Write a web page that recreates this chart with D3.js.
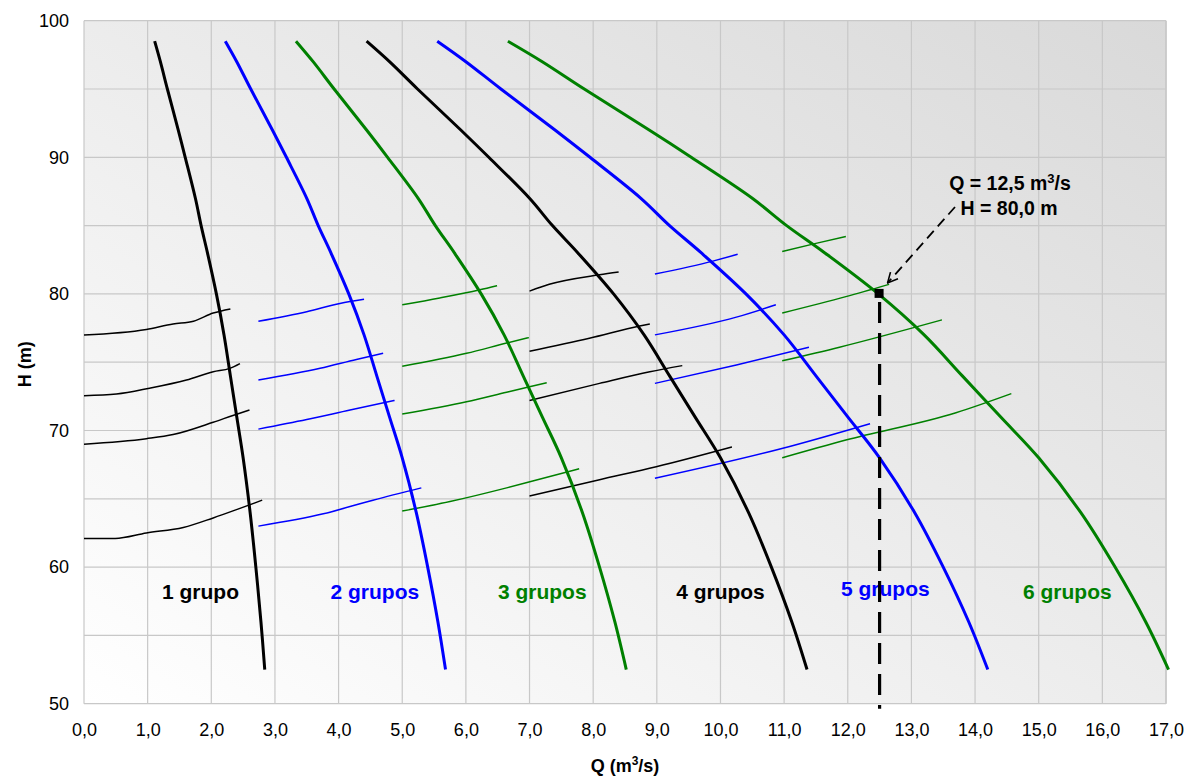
<!DOCTYPE html>
<html>
<head>
<meta charset="utf-8">
<script src="https://cdn.jsdelivr.net/npm/d3@7"></script>
<style>
  body { margin: 0; background: #fff; }
  text { font-family: "Liberation Sans", Arial, sans-serif; }
</style>
</head>
<body>
<svg id="chart" width="1187" height="778"></svg>
<script>
// heads (m) at which the pump curves were read
var alturas = [98.5, 97, 95, 92, 90, 87, 85, 83, 80, 77, 74, 71, 68, 64, 60, 56, 52.5];
// flow (m3/s) of each pump curve at those heads
var grupo1 = [1.11, 1.20, 1.31, 1.48, 1.59, 1.75, 1.84, 1.94, 2.08, 2.20, 2.30, 2.40, 2.50, 2.61, 2.70, 2.78, 2.84];
var grupo2 = [2.22, 2.40, 2.62, 2.96, 3.18, 3.50, 3.68, 3.88, 4.16, 4.40, 4.60, 4.80, 5.00, 5.22, 5.40, 5.56, 5.68];
var grupo3 = [3.33, 3.60, 3.93, 4.44, 4.77, 5.25, 5.52, 5.82, 6.24, 6.60, 6.90, 7.20, 7.50, 7.83, 8.10, 8.34, 8.52];
var grupo4 = [4.44, 4.80, 5.24, 5.92, 6.36, 7.00, 7.36, 7.76, 8.32, 8.80, 9.20, 9.60, 10.00, 10.44, 10.80, 11.12, 11.36];
var grupo5 = [5.55, 6.00, 6.55, 7.40, 7.95, 8.75, 9.20, 9.70, 10.40, 11.00, 11.50, 12.00, 12.50, 13.05, 13.50, 13.90, 14.20];
var grupo6 = [6.66, 7.20, 7.86, 8.88, 9.54, 10.50, 11.04, 11.64, 12.48, 13.20, 13.80, 14.40, 15.00, 15.66, 16.20, 16.68, 17.04];

// system curves, four per group zone, [Q, H]
var sist1 = [
  [[0,77.0],[0.98,77.4],[1.4,77.8],[1.72,78.0],[2.03,78.6],[2.3,78.9]],
  [[0,72.55],[0.51,72.67],[1.03,73.1],[1.61,73.7],[2.03,74.3],[2.29,74.55],[2.45,74.9]],
  [[0,69.0],[0.98,69.4],[1.4,69.7],[2.03,70.6],[2.34,71.1],[2.6,71.5]],
  [[0,62.1],[0.49,62.1],[0.98,62.5],[1.56,62.9],[2.03,63.6],[2.45,64.3],[2.8,64.9]]
];
var sist2 = [
  [[2.74,78.0],[3.5,78.7],[4.02,79.3],[4.4,79.6]],
  [[2.74,73.7],[3.71,74.55],[4.28,75.2],[4.7,75.65]],
  [[2.74,70.1],[3.5,70.8],[4.18,71.5],[4.88,72.2]],
  [[2.74,63.0],[3.76,63.9],[4.54,64.9],[5.3,65.8]]
];
var sist3 = [
  [[5.0,79.2],[5.59,79.7],[6.22,80.3],[6.49,80.6]],
  [[5.0,74.7],[6.01,75.65],[6.64,76.4],[6.99,76.8]],
  [[5.0,71.2],[6.01,72.1],[6.64,72.8],[7.0,73.2],[7.27,73.5]],
  [[5.0,64.1],[5.75,64.8],[6.64,65.8],[7.05,66.3],[7.78,67.2]]
];
var sist4 = [
  [[7.0,80.2],[7.31,80.7],[8.1,81.4],[8.4,81.6]],
  [[7.0,75.8],[7.94,76.75],[8.73,77.65],[8.89,77.8]],
  [[7.0,72.2],[8.1,73.45],[8.89,74.3],[9.4,74.75]],
  [[7.0,65.2],[8.1,66.4],[8.99,67.35],[10.18,68.8]]
];
var sist5 = [
  [[8.97,81.45],[9.88,82.4],[10.27,82.9]],
  [[8.97,77.0],[10.25,78.3],[10.87,79.2]],
  [[8.97,73.45],[10.25,74.8],[11.39,76.1]],
  [[8.97,66.5],[10.98,68.7],[12.35,70.5]]
];
var sist6 = [
  [[10.97,83.1],[11.5,83.7],[11.97,84.2]],
  [[10.97,78.6],[11.97,79.8],[12.65,80.7]],
  [[10.97,75.1],[11.87,76.1],[13.48,78.1]],
  [[10.97,68.0],[11.97,69.3],[13.7,71.3],[14.57,72.7]]
];

var grupoLabels = ["1 grupo", "2 grupos", "3 grupos", "4 grupos", "5 grupos", "6 grupos"];
var labelQ = [1.83, 4.57, 7.2, 10.0, 12.59, 15.45];
var labelH = [57.7, 57.7, 57.7, 57.7, 57.85, 57.7];

var puntoQ = 12.5, puntoH = 80.0;

var xTicks = d3.range(0, 18, 1);
var yTicks = [50, 60, 70, 80, 90, 100];
var yGrid = d3.range(50, 101, 5);

var colors = ["#000000", "#0000ff", "#008000", "#000000", "#0000ff", "#008000"];

var svg = d3.select("#chart");
var x = d3.scaleLinear().domain([0, 17]).range([84, 1166]);
var y = d3.scaleLinear().domain([50, 100]).range([703.7, 20.7]);
var fmt = d3.formatLocale({decimal: ",", thousands: ".", grouping: [3], currency: ["", ""]}).format(".1f");

// background gradient
var defs = svg.append("defs");
var grad = defs.append("linearGradient")
  .attr("id", "bg")
  .attr("x1", 0).attr("y1", 1).attr("x2", 1).attr("y2", 0);
grad.append("stop").attr("offset", 0).attr("stop-color", "#ffffff");
grad.append("stop").attr("offset", 1).attr("stop-color", "#d9d9d9");

defs.append("marker")
  .attr("id", "arrow")
  .attr("viewBox", "0 0 12 12")
  .attr("refX", 11).attr("refY", 6)
  .attr("markerWidth", 12).attr("markerHeight", 12)
  .attr("markerUnits", "userSpaceOnUse")
  .attr("orient", "auto")
  .append("path")
  .attr("d", "M1,1 L11,6 L1,11")
  .attr("fill", "none")
  .attr("stroke", "#000")
  .attr("stroke-width", 1.6);

svg.append("rect")
  .attr("x", x(0)).attr("y", y(100))
  .attr("width", x(17) - x(0)).attr("height", y(50) - y(100))
  .attr("fill", "url(#bg)");

// grid
svg.append("g").selectAll("line")
  .data(xTicks)
  .enter().append("line")
  .attr("x1", function(d){ return x(d); }).attr("x2", function(d){ return x(d); })
  .attr("y1", y(100)).attr("y2", y(50))
  .attr("stroke", "#c8c8c8").attr("stroke-width", 1.2);

svg.append("g").selectAll("line")
  .data(yGrid)
  .enter().append("line")
  .attr("x1", x(0)).attr("x2", x(17))
  .attr("y1", function(d){ return y(d); }).attr("y2", function(d){ return y(d); })
  .attr("stroke", "#c8c8c8").attr("stroke-width", 1.2);

svg.append("line")
  .attr("x1", x(17)).attr("x2", x(17)).attr("y1", y(100)).attr("y2", y(50))
  .attr("stroke", "#c8c8c8").attr("stroke-width", 1.5);

// axes labels
var xAxis = d3.axisBottom(x).tickValues(xTicks).tickFormat(fmt).tickSize(0).tickPadding(20);
svg.append("g")
  .attr("transform", "translate(0," + y(50) + ")")
  .call(xAxis)
  .call(function(g){ g.select(".domain").remove(); })
  .selectAll("text")
  .attr("font-size", "18px").attr("fill", "#000")
  .style("font-family", "'Liberation Sans', Arial, sans-serif");

var yAxis = d3.axisLeft(y).tickValues(yTicks).tickSize(0).tickPadding(15);
svg.append("g")
  .attr("transform", "translate(" + x(0) + ",0)")
  .call(yAxis)
  .call(function(g){ g.select(".domain").remove(); })
  .selectAll("text")
  .attr("font-size", "18px").attr("fill", "#000")
  .style("font-family", "'Liberation Sans', Arial, sans-serif");

svg.append("text")
  .attr("transform", "translate(31," + ((y(50) + y(100)) / 2 + 2) + ") rotate(-90)")
  .attr("text-anchor", "middle")
  .attr("font-size", "18px").attr("font-weight", "bold")
  .text("H (m)");

var xt = svg.append("text")
  .attr("x", (x(0) + x(17)) / 2).attr("y", 772)
  .attr("text-anchor", "middle")
  .attr("font-size", "18px").attr("font-weight", "bold");
xt.append("tspan").text("Q (m");
xt.append("tspan").attr("font-size", "12px").attr("dy", -7).text("3");
xt.append("tspan").attr("dy", 7).text("/s)");

var line = d3.line()
  .x(function(d){ return x(d[0]); })
  .y(function(d){ return y(d[1]); })
  .curve(d3.curveMonotoneX);

var smooth = d3.line()
  .x(function(d){ return x(d[0]); })
  .y(function(d){ return y(d[1]); })
  .curve(d3.curveCatmullRom.alpha(0.5));

// system curves
var sistemas = [sist1, sist2, sist3, sist4, sist5, sist6];
sistemas.forEach(function(group, i){
  svg.append("g").selectAll("path")
    .data(group)
    .enter().append("path")
    .attr("d", line)
    .attr("fill", "none")
    .attr("stroke", colors[i])
    .attr("stroke-width", 1.5);
});

// pump curves
var grupos = [grupo1, grupo2, grupo3, grupo4, grupo5, grupo6].map(function(qs){
  return qs.map(function(q, j){ return [q, alturas[j]]; });
});
svg.append("g").selectAll("path")
  .data(grupos)
  .enter().append("path")
  .attr("d", smooth)
  .attr("fill", "none")
  .attr("stroke", function(d, i){ return colors[i]; })
  .attr("stroke-width", 3)
  .attr("stroke-linejoin", "round");

// group labels
svg.append("g").selectAll("text")
  .data(grupoLabels)
  .enter().append("text")
  .attr("x", function(d, i){ return x(labelQ[i]); })
  .attr("y", function(d, i){ return y(labelH[i]); })
  .attr("text-anchor", "middle")
  .attr("font-size", "21px").attr("font-weight", "bold")
  .attr("fill", function(d, i){ return colors[i]; })
  .text(function(d){ return d; });

// operating point
svg.append("line")
  .attr("x1", x(puntoQ)).attr("x2", x(puntoQ))
  .attr("y1", y(puntoH) + 8).attr("y2", y(50) + 5)
  .attr("stroke", "#000").attr("stroke-width", 3.2)
  .attr("stroke-dasharray", "21,10");

svg.append("rect")
  .attr("x", x(puntoQ) - 5).attr("y", y(puntoH) - 5)
  .attr("width", 9).attr("height", 9)
  .attr("fill", "#000");

svg.append("line")
  .attr("x1", 955).attr("y1", 207)
  .attr("x2", x(puntoQ) + 8).attr("y2", y(puntoH) - 11)
  .attr("stroke", "#000").attr("stroke-width", 1.8)
  .attr("stroke-dasharray", "10,6")
  .attr("marker-end", "url(#arrow)");

var ann = svg.append("text")
  .attr("x", 1010).attr("y", 190)
  .attr("text-anchor", "middle")
  .attr("font-size", "19.5px").attr("font-weight", "bold");
ann.append("tspan").text("Q = 12,5 m");
ann.append("tspan").attr("font-size", "13px").attr("dy", -7).text("3");
ann.append("tspan").attr("dy", 7).text("/s");

svg.append("text")
  .attr("x", 1009).attr("y", 215)
  .attr("text-anchor", "middle")
  .attr("font-size", "19.5px").attr("font-weight", "bold")
  .text("H = 80,0 m");
</script>
</body>
</html>
